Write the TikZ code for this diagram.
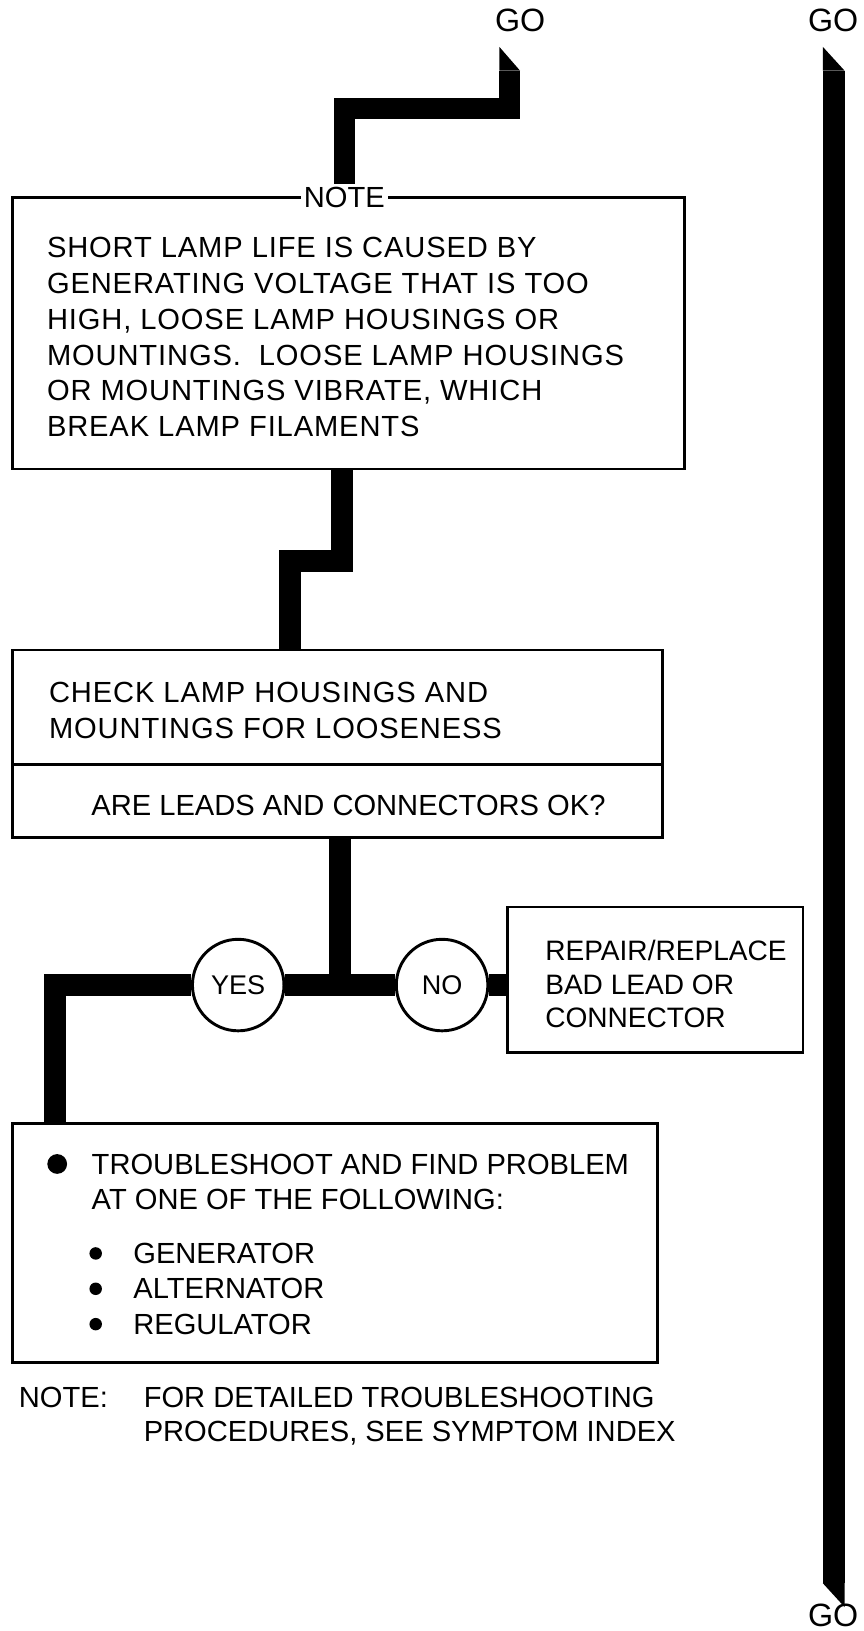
\documentclass[tikz,border=0pt]{standalone}
\usepackage{fontspec}
\setmainfont{Liberation Sans}
\usetikzlibrary{backgrounds}
\begin{document}
\begin{tikzpicture}[x=1pt,y=-1pt,
  bar/.style={line width=21pt,line join=miter,line cap=butt},
  boxnode/.style={draw,line width=2.4pt,inner sep=0pt,fill=white},
  txt/.style={inner sep=0pt,anchor=north west,align=left,font=\fontsize{28}{34.4}\selectfont},
  golabel/.style={inner sep=0pt,font=\fontsize{31}{34}\selectfont},
  circ/.style={draw,circle,line width=2.8pt,fill=white,minimum size=88pt,inner sep=0pt,font=\fontsize{26}{28}\selectfont}
]
\useasboundingbox (0,0) rectangle (830,1568);

% GO labels
\node[golabel] (goA) at (500,20) {GO};
\node[golabel] (goB) at (801,20) {GO};
\node[golabel] (goC) at (801,1553) {GO};

% NOTE box
\node[boxnode,minimum width=646pt,minimum height=261pt] (note) at (335,320.5) {};
\node[inner sep=3pt,fill=white,font=\fontsize{28}{30}\selectfont] (notelabel) at (331,190) {NOTE};
\node[txt,font=\fontsize{28}{34.4}\selectfont\addfontfeatures{LetterSpace=3}] (notetext) at (45,228) {SHORT LAMP LIFE IS CAUSED BY\\GENERATING VOLTAGE THAT IS TOO\\HIGH, LOOSE LAMP HOUSINGS OR\\MOUNTINGS.\ \ LOOSE LAMP HOUSINGS\\OR MOUNTINGS VIBRATE, WHICH\\BREAK LAMP FILAMENTS};

% CHECK box
\node[boxnode,minimum width=625pt,minimum height=180pt] (check) at (324.5,715) {};
\coordinate (div) at (0,735);
\draw[line width=2.4pt] (check.west |- div) -- (check.east |- div);
\node[txt,font=\fontsize{28}{34}\selectfont\addfontfeatures{LetterSpace=3}] (checktext) at (47,656) {CHECK LAMP HOUSINGS AND\\MOUNTINGS FOR LOOSENESS};
\node[txt,anchor=north] (question) at (335,764) {ARE LEADS AND CONNECTORS OK?};

% YES / NO
\node[circ] (yes) at (229,947) {YES};
\node[circ] (no) at (425,947) {NO};

% REPAIR box
\node[boxnode,minimum width=284pt,minimum height=140pt] (repair) at (630,942) {};
\node[txt,font=\fontsize{27}{32}\selectfont] (repairtext) at (524,904) {REPAIR/REPLACE\\BAD LEAD OR\\CONNECTOR};

% TROUBLESHOOT box
\node[boxnode,minimum width=620pt,minimum height=230pt] (trouble) at (322,1195) {};
\node[txt,font=\fontsize{28}{34}\selectfont] (troubletext) at (88,1109) {TROUBLESHOOT AND FIND PROBLEM\\AT ONE OF THE FOLLOWING:};
\node[txt,font=\fontsize{28}{34}\selectfont] (items) at (128,1195) {GENERATOR\\ALTERNATOR\\REGULATOR};
\fill (55,1119) circle (9.5pt);
\fill (92,1205) circle (6pt);
\fill (92,1239) circle (6pt);
\fill (92,1273) circle (6pt);

% bottom note
\node[txt,font=\fontsize{28}{33}\selectfont] (nlabel) at (18,1333) {NOTE:};
\node[txt,font=\fontsize{28}{33}\selectfont] (ntext) at (138,1333) {FOR DETAILED TROUBLESHOOTING\\PROCEDURES, SEE SYMPTOM INDEX};

% connectors
\begin{scope}[on background layer]
  % top left GO
  \coordinate (a1) at (490,68);
  \coordinate (a2) at (490,104);
  \coordinate (a3) at (331,104);
  \fill (480,45) -- (500,68) -- (480,68) -- cycle;
  \draw[bar,line width=20pt] (a1) -- (a2) -- (a3) -- (a3 |- notelabel.north);
  % note to check
  \coordinate (k1) at (329,539);
  \coordinate (k2) at (279,539);
  \draw[bar] (note.south -| k1) -- (k1) -- (k2) -- (check.north -| k2);
  % check to junction
  \coordinate (j) at (327,947);
  \draw[bar] (check.south -| j) -- (j);
  \draw[bar] (yes) -- (no);
  \draw[bar] (no) -- (repair.west |- no);
  \coordinate (c1) at (53,947);
  \draw[bar] (yes) -- (c1) -- (trouble.north -| c1);
  % right GO bar
  \coordinate (rTop) at (801.5,68);
  \coordinate (rBot) at (801.5,1522);
  \fill (791,45) -- (812,68) -- (791,68) -- cycle;
  \fill (791,1522) -- (812,1545) -- (812,1522) -- cycle;
  \draw[bar] (rTop) -- (rBot);
\end{scope}
\end{tikzpicture}
\end{document}
